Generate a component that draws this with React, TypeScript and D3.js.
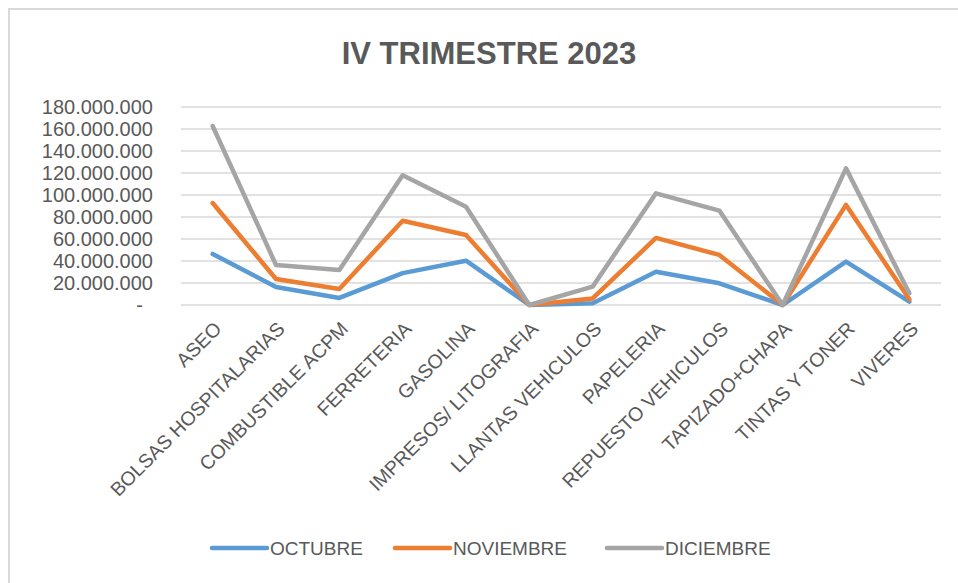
import React, { useEffect, useRef } from 'react';
import * as d3 from 'd3';

const categories = [
  'ASEO', 'BOLSAS HOSPITALARIAS', 'COMBUSTIBLE ACPM', 'FERRETERIA', 'GASOLINA',
  'IMPRESOS/ LITOGRAFIA', 'LLANTAS VEHICULOS', 'PAPELERIA', 'REPUESTO VEHICULOS',
  'TAPIZADO+CHAPA', 'TINTAS Y TONER', 'VIVERES',
];
const seriesNames = ['OCTUBRE', 'NOVIEMBRE', 'DICIEMBRE'];
const octubre = [46.4e6, 16.4e6, 6.4e6, 29e6, 40.3e6, 0, 1.5e6, 30.3e6, 19.7e6, 0, 39.4e6, 3e6];
const noviembre = [92.7e6, 23.6e6, 14.5e6, 76.6e6, 63.6e6, 0, 6e6, 61e6, 45.5e6, 0, 91e6, 5.2e6];
const diciembre = [162.7e6, 36.4e6, 31.8e6, 118e6, 89.4e6, 0, 16.7e6, 101.5e6, 85.8e6, 0, 124.2e6, 10.6e6];
const yTicks = [0, 20e6, 40e6, 60e6, 80e6, 100e6, 120e6, 140e6, 160e6, 180e6];
const colors = ['#5B9BD5', '#ED7D31', '#A5A5A5'];

const App = () => {
  const ref = useRef<SVGSVGElement>(null);

  useEffect(() => {
    const svg = d3.select(ref.current);
    svg.selectAll('*').remove();
    const font = '"Liberation Sans", Arial, sans-serif';
    const textColor = '#595959';

    // chart frame
    svg.append('rect')
      .attr('x', 9).attr('y', 9).attr('width', 970).attr('height', 600)
      .attr('fill', '#fff').attr('stroke', '#d9d9d9').attr('stroke-width', 2);

    svg.append('text')
      .attr('x', 489).attr('y', 64)
      .attr('text-anchor', 'middle')
      .attr('font-family', font).attr('font-weight', 'bold').attr('font-size', 31)
      .attr('fill', textColor)
      .text('IV TRIMESTRE 2023');

    const x = d3.scaleBand().domain(categories).range([181, 941]);
    const y = d3.scaleLinear().domain([0, 180e6]).range([305, 107]);

    // gridlines
    svg.append('g').selectAll('line').data(yTicks).join('line')
      .attr('x1', 181).attr('x2', 941)
      .attr('y1', d => y(d)).attr('y2', d => y(d))
      .attr('stroke', '#d9d9d9').attr('stroke-width', 1.5);

    const fmt = (v: number) => v === 0 ? '-' : d3.format(',')(v).replace(/,/g, '.');
    svg.append('g').selectAll('text').data(yTicks).join('text')
      .attr('x', d => d === 0 ? 143 : 153)
      .attr('y', d => y(d))
      .attr('dy', '0.36em')
      .attr('text-anchor', 'end')
      .attr('font-family', font).attr('font-size', 20)
      .attr('fill', textColor)
      .text(d => fmt(d));

    // x labels rotated
    svg.append('g').selectAll('text').data(categories).join('text')
      .attr('transform', d => `translate(${x(d)! + x.bandwidth() / 2 + 10},${330}) rotate(-45)`)
      .attr('text-anchor', 'end')
      .attr('font-family', font).attr('font-size', 19.5)
      .attr('fill', textColor)
      .text(d => d);

    const data = [octubre, noviembre, diciembre];
    const line = d3.line<number>()
      .x((_, i) => x(categories[i])! + x.bandwidth() / 2)
      .y(d => y(d));

    svg.append('g').selectAll('path').data(data).join('path')
      .attr('d', d => line(d))
      .attr('fill', 'none')
      .attr('stroke', (_, i) => colors[i])
      .attr('stroke-width', 4.5)
      .attr('stroke-linejoin', 'round')
      .attr('stroke-linecap', 'round');

    // legend
    const legendX = [212, 395, 607];
    const lg = svg.append('g').selectAll('g').data(seriesNames).join('g')
      .attr('transform', (_, i) => `translate(${legendX[i]},548)`);
    lg.append('line')
      .attr('x1', 0).attr('x2', 55).attr('y1', 0).attr('y2', 0)
      .attr('stroke', (_, i) => colors[i]).attr('stroke-width', 4.5)
      .attr('stroke-linecap', 'round');
    lg.append('text')
      .attr('x', 58).attr('y', 0).attr('dy', '0.36em')
      .attr('font-family', font).attr('font-size', 19)
      .attr('fill', textColor)
      .text(d => d);
  }, []);

  return (
    <svg ref={ref} width={958} height={583}
      style={{ position: 'absolute', left: 0, top: 0, background: '#fff' }} />
  );
};

export default App;
